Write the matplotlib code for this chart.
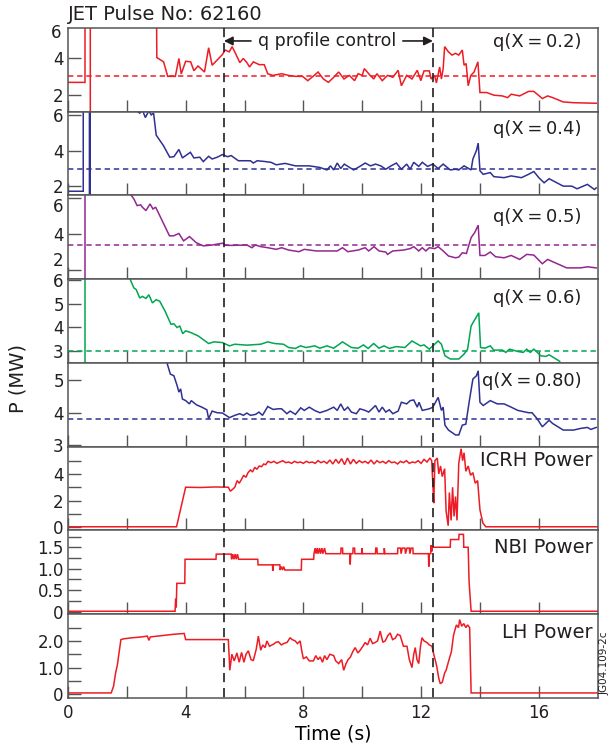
import matplotlib
matplotlib.use('Agg')
import matplotlib.pyplot as plt
import matplotlib.transforms as mtransforms
from matplotlib.lines import Line2D

nan = float('nan')

# q profiles: (time s, q)
q02 = [(0, 2.68), (0.58, 2.68), (0.58, 9), (0.76, 9), (0.76, 0), (nan, nan),
       (3.0, 9), (3.02, 4.0), (3.25, 3.77), (3.39, 3.0), (3.65, 3.0), (3.77, 3.95), (3.85, 3.13),
       (4.0, 3.8), (4.17, 3.77), (4.28, 3.3), (4.42, 3.55), (4.64, 3.23), (4.78, 4.52), (4.9, 3.59),
       (5.25, 4.16), (5.34, 4.4), (5.48, 4.3), (5.58, 4.58), (5.72, 4.13), (5.84, 3.73), (5.96, 3.95),
       (6.08, 3.73), (6.17, 3.5), (6.3, 3.77), (6.5, 3.62), (6.67, 3.62), (6.79, 3.14), (6.96, 3.05),
       (7.26, 3.14), (7.5, 3.05), (7.73, 3.0), (7.97, 3.0), (8.15, 2.77), (8.33, 3.0), (8.5, 3.23),
       (8.68, 2.86), (8.85, 2.68), (9.03, 2.95), (9.2, 3.23), (9.38, 2.86), (9.56, 3.05), (9.74, 2.77),
       (9.86, 3.14), (10.0, 3.05), (10.07, 3.41), (10.27, 3.05), (10.39, 2.86), (10.5, 3.14),
       (10.68, 2.77), (10.86, 3.05), (11.04, 2.95), (11.22, 3.32), (11.33, 2.5), (11.51, 3.05),
       (11.69, 2.86), (11.87, 3.32), (11.99, 2.77), (12.1, 3.29), (12.28, 3.29), (12.34, 2.86),
       (12.46, 3.05), (12.52, 2.65), (12.63, 3.5), (12.69, 2.86), (12.75, 3.41), (12.8, 4.58),
       (12.93, 4.3), (13.05, 4.13), (13.17, 4.22), (13.28, 4.13), (13.4, 4.4), (13.46, 3.59),
       (13.53, 3.68), (13.6, 2.5), (13.69, 3.05), (13.8, 3.23), (13.93, 3.77), (14.0, 2.14),
       (14.23, 2.14), (14.47, 2.0), (14.76, 1.96), (14.94, 1.87), (15.06, 2.05), (15.35, 1.96),
       (15.65, 2.2), (15.83, 2.2), (16.12, 1.82), (16.3, 1.96), (16.47, 1.87), (16.83, 1.64),
       (17.18, 1.6), (17.95, 1.57)]

q04 = [(0, 1.69), (0.52, 1.69), (0.52, 9), (0.73, 9), (0.73, 0), (0.755, 0), (0.755, 9), (nan, nan),
       (2.3, 6.3), (2.44, 6.12), (2.53, 6.3), (2.63, 5.87), (2.75, 6.25), (2.83, 6.02), (2.91, 6.12),
       (3.0, 4.87), (3.24, 4.29), (3.46, 3.62), (3.6, 3.65), (3.77, 4.06), (3.89, 3.58), (4.0, 3.71),
       (4.16, 3.9), (4.28, 3.58), (4.48, 3.62), (4.6, 3.37), (4.78, 3.67), (4.9, 3.52), (5.07, 3.62),
       (5.25, 3.77), (5.42, 3.65), (5.55, 3.71), (5.79, 3.42), (5.96, 3.42), (6.2, 3.42), (6.3, 3.29),
       (6.43, 3.42), (6.67, 3.38), (6.9, 3.33), (7.08, 3.19), (7.38, 3.27), (7.73, 3.13), (8.2, 3.13),
       (8.56, 3.04), (8.8, 2.9), (8.92, 3.13), (9.03, 2.9), (9.15, 3.29), (9.27, 2.98), (9.39, 3.23),
       (9.57, 3.04), (9.71, 2.9), (9.92, 3.1), (10.1, 3.29), (10.28, 3.13), (10.45, 3.23),
       (10.63, 3.13), (10.8, 2.94), (10.98, 3.13), (11.16, 3.29), (11.33, 2.94), (11.51, 3.23),
       (11.63, 2.94), (11.75, 3.33), (11.92, 3.1), (12.04, 3.33), (12.22, 3.1), (12.4, 3.23),
       (12.58, 2.98), (12.75, 3.23), (12.99, 2.9), (13.17, 2.94), (13.28, 2.9), (13.46, 3.13),
       (13.7, 2.9), (13.76, 3.52), (13.88, 4.0), (13.94, 4.42), (14.0, 2.85), (14.11, 2.65),
       (14.35, 2.75), (14.47, 2.52), (14.82, 2.46), (15.06, 2.56), (15.41, 2.46), (15.65, 2.65),
       (15.83, 2.81), (16.0, 2.46), (16.18, 2.17), (16.35, 2.4), (16.83, 1.98), (17.12, 1.98),
       (17.3, 1.83), (17.65, 2.08), (17.89, 1.79), (17.95, 1.88)]

q05 = [(0.58, 1.55), (0.58, 9), (nan, nan),
       (2.12, 6.24), (2.24, 5.96), (2.35, 5.59), (2.47, 5.63), (2.53, 5.5), (2.65, 5.31), (2.79, 5.68),
       (2.89, 5.4), (2.98, 5.5), (3.12, 5.03), (3.45, 3.91), (3.59, 3.91), (3.77, 4.04), (3.93, 3.63),
       (4.13, 3.87), (4.36, 3.53), (4.6, 3.35), (4.9, 3.4), (5.25, 3.5), (5.37, 3.38), (5.6, 3.38),
       (6.08, 3.4), (6.25, 3.25), (6.37, 3.4), (6.55, 3.31), (6.79, 3.25), (7.08, 3.16), (7.26, 3.25),
       (7.5, 3.12), (7.85, 3.03), (8.03, 3.16), (8.44, 3.07), (9.15, 3.07), (9.33, 3.25), (9.51, 3.03),
       (9.86, 3.12), (10.1, 3.25), (10.22, 3.07), (10.4, 3.31), (10.57, 3.07), (10.8, 3.01),
       (10.86, 2.88), (11.04, 3.07), (11.4, 3.12), (11.63, 3.2), (11.75, 3.31), (11.92, 3.07),
       (12.04, 3.25), (12.16, 3.07), (12.28, 3.25), (12.46, 3.2), (12.58, 3.31), (12.75, 3.07),
       (12.93, 2.79), (13.17, 2.69), (13.28, 2.73), (13.4, 2.97), (13.54, 2.93), (13.7, 3.81),
       (13.82, 4.09), (13.94, 4.5), (14.0, 2.82), (14.17, 2.82), (14.35, 3.01), (14.53, 2.75),
       (14.82, 2.69), (15.06, 2.82), (15.35, 2.6), (15.59, 2.88), (15.83, 2.84), (16.12, 2.36),
       (16.3, 2.6), (16.6, 2.38), (16.95, 2.13), (17.42, 2.13), (17.65, 2.19), (17.95, 2.13)]

q06 = [(0.58, 2.4), (0.58, 9), (nan, nan),
       (2.12, 6.03), (2.24, 5.68), (2.32, 5.61), (2.44, 5.25), (2.53, 5.32), (2.65, 5.23), (2.75, 5.39),
       (2.87, 5.04), (3.0, 5.18), (3.12, 5.11), (3.3, 4.69), (3.5, 4.13), (3.6, 4.15), (3.71, 3.99),
       (3.8, 4.06), (3.9, 3.73), (4.0, 3.85), (4.19, 3.77), (4.43, 3.63), (4.78, 3.31), (4.96, 3.38),
       (5.25, 3.35), (5.49, 3.21), (5.67, 3.28), (6.08, 3.24), (6.55, 3.28), (6.79, 3.38), (7.02, 3.31),
       (7.32, 3.28), (7.5, 3.14), (7.73, 3.1), (7.9, 3.21), (8.09, 3.14), (8.39, 3.21), (8.56, 3.11),
       (8.8, 3.21), (9.03, 3.11), (9.33, 3.38), (9.63, 3.14), (9.86, 3.11), (10.04, 3.25), (10.2, 3.1),
       (10.39, 3.31), (10.57, 3.11), (10.74, 3.21), (10.92, 3.1), (11.16, 3.18), (11.45, 3.14),
       (11.69, 3.42), (11.98, 3.21), (12.1, 3.25), (12.28, 3.07), (12.4, 3.21), (12.58, 3.42),
       (12.69, 3.28), (12.81, 2.79), (12.99, 2.65), (13.28, 2.65), (13.46, 2.86), (13.58, 3.07),
       (13.7, 4.06), (13.96, 4.62), (14.02, 3.14), (14.17, 3.11), (14.35, 3.21), (14.47, 3.03),
       (14.76, 3.03), (14.88, 2.93), (15.0, 3.07), (15.29, 2.97), (15.47, 2.93), (15.59, 3.07),
       (15.71, 2.93), (15.83, 3.07), (15.95, 2.93), (16.06, 2.79), (16.24, 2.76), (16.35, 2.83),
       (16.71, 2.55)]

q08 = [(3.36, 5.54), (3.48, 5.18), (3.6, 5.13), (3.71, 4.83), (3.77, 4.63), (3.83, 4.73), (3.89, 4.42),
       (4.0, 4.37), (4.13, 4.27), (4.19, 4.37), (4.37, 4.24), (4.55, 4.17), (4.72, 4.09), (4.78, 3.82),
       (4.9, 4.05), (5.07, 4.0), (5.25, 3.99), (5.49, 3.85), (5.67, 3.92), (5.84, 3.97), (5.96, 3.92),
       (6.08, 3.99), (6.2, 3.92), (6.38, 3.95), (6.49, 4.02), (6.61, 3.92), (6.79, 4.19), (6.97, 4.1),
       (7.14, 4.12), (7.26, 4.12), (7.44, 3.97), (7.55, 4.05), (7.73, 3.95), (7.91, 4.15), (8.03, 4.07),
       (8.2, 4.17), (8.38, 4.07), (8.56, 4.0), (8.8, 4.07), (9.03, 4.17), (9.15, 4.07), (9.27, 4.27),
       (9.39, 4.07), (9.51, 4.17), (9.63, 4.02), (9.8, 3.97), (9.92, 4.12), (10.1, 4.07), (10.22, 4.02),
       (10.45, 4.22), (10.57, 4.02), (10.68, 4.17), (10.8, 4.02), (10.92, 4.09), (11.04, 3.97),
       (11.22, 4.05), (11.33, 4.32), (11.51, 4.27), (11.63, 4.37), (11.75, 4.39), (11.87, 4.17),
       (11.93, 4.32), (12.04, 4.07), (12.28, 4.12), (12.4, 4.17), (12.58, 4.47), (12.69, 4.07),
       (12.75, 4.17), (12.81, 3.62), (12.93, 3.47), (13.17, 3.32), (13.28, 3.32), (13.4, 3.62),
       (13.52, 3.65), (13.64, 4.37), (13.76, 5.03), (13.88, 5.13), (13.94, 5.28), (14.0, 4.32),
       (14.11, 4.22), (14.35, 4.37), (14.59, 4.27), (14.82, 4.27), (15.06, 4.17), (15.29, 4.07),
       (15.65, 4.0), (15.77, 4.0), (15.94, 3.82), (16.12, 3.57), (16.35, 3.77), (16.47, 3.67),
       (16.83, 3.47), (17.18, 3.47), (17.42, 3.52), (17.65, 3.55), (17.77, 3.49), (17.95, 3.55)]

# heating powers (time s, MW)
icrh = [(0, 0.02), (3.69, 0.02), (4.0, 3.0), (4.5, 2.98), (5.0, 3.02), (5.45, 3.0), (5.52, 2.7),
        (5.6, 2.85), (5.67, 3.0), (5.75, 3.5), (5.82, 3.3), (5.9, 3.6), (5.97, 3.9), (6.05, 3.75),
        (6.12, 4.1), (6.2, 4.3), (6.27, 4.15), (6.35, 4.5), (6.42, 4.35), (6.5, 4.6), (6.58, 4.55),
        (6.65, 4.75), (6.72, 4.7), (6.8, 4.95),
        (6.9, 4.85), (7.0, 4.95), (7.1, 4.8), (7.2, 4.9), (7.3, 5.0), (7.4, 4.85), (7.5, 4.9),
        (7.6, 4.8), (7.7, 4.95), (7.8, 4.85), (7.9, 4.9), (8.0, 4.8), (8.1, 4.95), (8.2, 4.85),
        (8.3, 4.9), (8.4, 4.8), (8.5, 5.0), (8.6, 4.85), (8.7, 4.95), (8.8, 4.8), (8.9, 5.05),
        (9.0, 4.75), (9.1, 5.1), (9.2, 4.8), (9.3, 5.15), (9.4, 4.7), (9.5, 5.2), (9.6, 4.75),
        (9.7, 5.1), (9.8, 4.8), (9.9, 5.0), (10.0, 4.85), (10.1, 4.95), (10.2, 4.8), (10.3, 5.05),
        (10.4, 4.75), (10.5, 5.0), (10.6, 4.85), (10.7, 4.95), (10.8, 4.8), (10.9, 5.0), (11.0, 4.85),
        (11.1, 4.9), (11.2, 4.75), (11.3, 4.95), (11.4, 4.85), (11.5, 5.0), (11.6, 4.8), (11.7, 4.9),
        (11.8, 4.85), (11.9, 5.0), (12.0, 4.8), (12.1, 5.1), (12.2, 4.9),
        (12.3, 5.2), (12.36, 5.0), (12.4, 3.2), (12.43, 1.8), (12.47, 5.0), (12.55, 5.2), (12.6, 4.0),
        (12.66, 4.6), (12.72, 3.8), (12.8, 4.4), (12.85, 1.2), (12.92, 0.1), (12.96, 2.6), (13.02, 0.5),
        (13.07, 3.0), (13.12, 0.8), (13.17, 2.3), (13.22, 0.5), (13.28, 4.8), (13.36, 5.9), (13.41, 5.0),
        (13.46, 5.6), (13.52, 4.2), (13.6, 4.6), (13.68, 3.9), (13.76, 4.1), (13.84, 3.3), (13.92, 3.5),
        (14.0, 1.3), (14.1, 0.3), (14.2, 0.02), (18, 0.02)]

nbi = [(0, 0.01), (3.64, 0.01), (3.66, 0.3), (3.68, 0.1), (3.7, 0.66), (3.97, 0.66), (3.98, 1.22),
       (5.03, 1.22), (5.04, 1.34), (5.55, 1.34), (5.56, 1.22), (5.6, 1.34), (5.64, 1.22), (5.68, 1.34),
       (5.72, 1.22), (5.76, 1.34), (5.8, 1.22), (6.45, 1.22), (6.46, 1.09), (6.95, 1.09), (6.96, 0.95),
       (6.98, 1.09), (7.2, 1.09), (7.21, 0.97), (7.25, 1.05), (7.29, 0.97), (7.33, 1.05), (7.37, 0.97),
       (7.93, 0.97), (7.94, 1.22), (8.35, 1.22), (8.36, 1.35), (8.4, 1.48), (8.43, 1.35), (8.47, 1.48),
       (8.5, 1.35), (8.55, 1.48), (8.58, 1.35), (8.63, 1.48), (8.66, 1.35), (8.72, 1.48), (8.76, 1.35),
       (9.27, 1.35), (9.28, 1.48), (9.33, 1.48), (9.34, 1.35), (9.58, 1.35), (9.59, 1.1), (9.61, 1.35),
       (9.68, 1.35), (9.69, 1.48), (9.74, 1.48), (9.75, 1.35), (9.98, 1.35), (9.99, 1.48), (10.01, 1.35),
       (10.45, 1.35), (10.46, 1.48), (10.5, 1.48), (10.51, 1.35), (10.74, 1.35), (10.75, 1.48),
       (10.77, 1.35), (11.2, 1.35), (11.21, 1.48), (11.3, 1.48), (11.32, 1.35), (11.36, 1.48),
       (11.45, 1.48), (11.47, 1.35), (11.52, 1.48), (11.6, 1.48), (11.62, 1.35), (11.66, 1.48),
       (11.72, 1.48), (11.73, 1.35), (12.25, 1.35), (12.26, 1.05), (12.28, 1.35), (12.33, 1.35),
       (12.34, 1.55), (12.36, 1.4), (12.38, 1.5), (12.99, 1.5), (13.0, 1.68), (13.28, 1.68),
       (13.29, 1.8), (13.44, 1.8), (13.45, 1.5), (13.6, 1.5), (13.63, 0.7), (13.67, 0.3), (13.7, 0.01),
       (18, 0.01)]

lh = [(0, 0.05), (1.47, 0.05), (1.55, 0.3), (1.62, 0.8), (1.68, 1.1), (1.73, 1.5), (1.8, 2.05),
      (1.9, 2.08), (2.2, 2.12), (2.5, 2.15), (2.7, 2.18), (2.75, 2.02), (2.8, 2.15), (3.2, 2.2),
      (3.6, 2.25), (3.95, 2.28), (4.0, 2.05), (4.5, 2.05), (5.0, 2.05), (5.45, 2.05), (5.5, 0.9),
      (5.57, 1.5), (5.65, 1.25), (5.74, 1.55), (5.82, 1.2), (5.9, 1.57), (5.98, 1.2), (6.05, 1.5),
      (6.13, 1.63), (6.22, 1.3), (6.3, 1.26), (6.4, 1.7), (6.47, 2.18), (6.55, 1.65), (6.62, 1.85),
      (6.7, 1.75), (6.76, 2.0), (6.85, 1.8), (6.99, 1.88), (7.07, 1.95), (7.15, 1.97), (7.25, 1.85),
      (7.33, 1.9), (7.45, 1.95), (7.55, 2.12), (7.62, 2.05), (7.72, 2.0), (7.8, 1.9), (7.89, 2.0),
      (7.95, 1.6), (8.0, 1.33), (8.1, 1.4), (8.2, 1.25), (8.34, 1.25), (8.42, 1.45), (8.5, 1.3),
      (8.57, 1.4), (8.65, 1.2), (8.72, 1.45), (8.8, 1.3), (8.9, 1.5), (9.03, 1.45), (9.1, 1.25),
      (9.2, 1.15), (9.3, 1.3), (9.37, 0.9), (9.45, 1.15), (9.52, 1.3), (9.6, 1.4), (9.68, 1.6),
      (9.76, 1.75), (9.85, 1.55), (9.93, 1.65), (10.02, 1.8), (10.1, 1.94), (10.18, 1.85), (10.27, 2.1),
      (10.35, 1.9), (10.44, 1.94), (10.52, 2.0), (10.61, 2.37), (10.7, 1.95), (10.78, 2.0), (10.87, 2.2),
      (10.95, 2.3), (11.03, 2.05), (11.12, 2.1), (11.2, 2.25), (11.29, 2.2), (11.4, 1.8), (11.52, 1.8),
      (11.6, 1.3), (11.69, 1.0), (11.75, 1.5), (11.8, 1.75), (11.86, 1.3), (11.92, 1.15), (11.98, 1.8),
      (12.03, 2.12), (12.1, 2.0), (12.2, 1.94), (12.28, 1.85), (12.37, 1.8), (12.43, 1.5), (12.5, 1.2),
      (12.54, 1.0), (12.6, 0.6), (12.65, 0.4), (12.72, 0.45), (12.8, 0.8), (12.85, 0.9), (12.95, 1.3),
      (13.03, 1.6), (13.1, 2.2), (13.14, 2.37), (13.2, 2.6), (13.27, 2.5), (13.31, 2.8), (13.38, 2.55),
      (13.45, 2.65), (13.52, 2.5), (13.58, 2.6), (13.65, 2.5), (13.7, 0.05), (18, 0.05)]

series = [q02, q04, q05, q06, q08, icrh, nbi, lh]
q_refs = [3.0, 2.95, 3.4, 3.0, 3.8]
labels = ['q(X\u2009=\u20090.2)', 'q(X\u2009=\u20090.4)', 'q(X\u2009=\u20090.5)', 'q(X\u2009=\u20090.6)',
          'q(X\u2009=\u20090.80)', 'ICRH Power', 'NBI Power', 'LH Power']
yticks = [[2, 4], [2, 4, 6], [2, 4, 6], [3, 4, 5, 6], [3, 4, 5], [0, 2, 4], [0, 0.5, 1.0, 1.5], [0, 1.0, 2.0]]
ytick_labels = [None, None, None, None, None, None, ['0', '0.5', '1.0', '1.5'], ['0', '1.0', '2.0']]
yminor = [[], [], [], [], [], [1, 3, 5], [0.25, 0.75, 1.25, 1.75], [0.5, 1.5, 2.5]]
ylims = [(1.12, 5.57), (1.45, 6.2), (1.5, 6.15), (2.48, 6.05), (2.96, 5.52), (-0.26, 6.05), (-0.06, 1.89), (-0.14, 3.0)]
label_y = [0.83, 0.79, 0.74, 0.77, 0.79, 0.84, 0.8, 0.78]

RED = '#ed1c24'
BLUE = '#2e3192'
PURPLE = '#92278f'
GREEN = '#00a651'
colors = [RED, BLUE, PURPLE, GREEN, BLUE, RED, RED, RED]

t_ctrl_start, t_ctrl_end = 5.3, 12.4
t_ctrl_text = 8.8

TXT = '#231f20'
FRAME = '#555555'
plt.rcParams['font.family'] = ['DejaVu Sans']
plt.rcParams['text.color'] = TXT

fig = plt.figure(figsize=(6.12, 7.52), dpi=100)
gs = fig.add_gridspec(8, 1, left=0.111, right=0.9766, top=0.9628, bottom=0.0718, hspace=0)
axes = []
for i in range(8):
    ax = fig.add_subplot(gs[i], sharex=axes[0] if axes else None)
    axes.append(ax)
    t = [p[0] for p in series[i]]
    v = [p[1] for p in series[i]]
    ax.plot(t, v, color=colors[i], lw=1.1, solid_joinstyle='miter')
    if i < 5:
        ax.axhline(q_refs[i], color=colors[i], lw=1.1, ls=(0, (3.5, 2.5)))
    ax.set_ylim(*ylims[i])
    ax.set_yticks(yticks[i])
    if ytick_labels[i]:
        ax.set_yticklabels(ytick_labels[i])
    ax.set_yticks(yminor[i], minor=True)
    ax.set_xlim(0, 18)
    ax.set_xticks([0, 4, 8, 12, 16])
    ax.set_xticks([2, 6, 10, 14], minor=True)
    ax.tick_params(which='both', direction='in', length=9, width=1.0, color=FRAME,
                   top=False, right=False, labelsize=12, labelcolor=TXT, pad=3)
    ax.tick_params(axis='x', labelbottom=(i == 7), pad=4)
    for s in ax.spines.values():
        s.set_color(FRAME)
        s.set_linewidth(1.1)
    xr = 0.970 if i < 5 else 0.99
    ax.text(xr, label_y[i], labels[i], transform=ax.transAxes, ha='right', va='center',
            fontsize=13 if i < 5 else 14)

# the third panel has its top label hanging below the tick and its bottom label sitting above it
ylab3 = axes[2].get_yticklabels()
ylab3[0].set_va('bottom')
ylab3[-1].set_va('top')

# the "6" label at the top of the first panel
axes[0].text(-0.012, 0.94, '6', transform=axes[0].transAxes, ha='right', va='center', fontsize=12)

axes[7].set_xlabel('Time (s)', fontsize=13.5, labelpad=2)
axes[7].set_xticklabels(['0', '4', '8', '12', '16'])
fig.text(0.03, 0.497, 'P (MW)', rotation=90, ha='center', va='center', fontsize=14)
fig.text(0.111, 0.981, 'JET Pulse No: 62160', ha='left', va='center', fontsize=14)
fig.text(605 / 612, 1 - 663 / 752, 'JG04.109-2c', rotation=90, ha='center', va='center', fontsize=7.5)

# q profile control window
vtrans = mtransforms.blended_transform_factory(axes[0].transData, fig.transFigure)
for tx in (t_ctrl_start, t_ctrl_end):
    fig.add_artist(Line2D([tx, tx], [0.9628, 0.0718], transform=vtrans, color=TXT, lw=1.2,
                          ls=(0, (5.5, 3.5))))

htrans = mtransforms.blended_transform_factory(axes[0].transData, axes[0].transAxes)
axes[0].text(t_ctrl_text, 0.845, 'q profile control', transform=htrans,
             ha='center', va='center', fontsize=12.5)
arrow = dict(arrowstyle='-|>', color=TXT, lw=1.2, shrinkA=0, shrinkB=0, mutation_scale=13)
axes[0].annotate('', xy=(t_ctrl_start, 0.845), xycoords=htrans, xytext=(6.22, 0.845), textcoords=htrans,
                 arrowprops=arrow)
axes[0].annotate('', xy=(t_ctrl_end, 0.845), xycoords=htrans, xytext=(11.38, 0.845), textcoords=htrans,
                 arrowprops=arrow)

fig.savefig('out.png', dpi=100)
